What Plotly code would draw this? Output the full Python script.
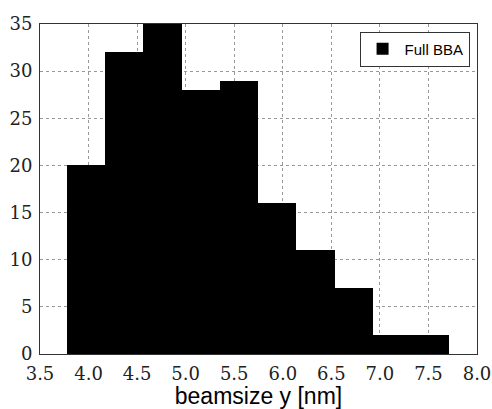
import plotly.graph_objects as go

# Histogram data
bin_start = 3.776
bin_width = 0.394
counts = [20, 32, 35, 28, 29, 16, 11, 7, 2, 2]
series_name = "Full BBA"
x_title = "beamsize y [nm]"
x_ticks = [3.5, 4.0, 4.5, 5.0, 5.5, 6.0, 6.5, 7.0, 7.5, 8.0]
y_ticks = [0, 5, 10, 15, 20, 25, 30, 35]

centers = [bin_start + bin_width * (i + 0.5) for i in range(len(counts))]
widths = [bin_width] * len(counts)

fig = go.Figure()
fig.add_trace(go.Bar(
    x=centers, y=counts, width=widths, name=series_name,
    marker=dict(color="black", line=dict(color="black", width=0)),
    showlegend=True,
))

serif = "DejaVu Serif"
axis_common = dict(
    showline=True, linecolor="#333", linewidth=1, mirror=True,
    showgrid=True, gridcolor="#999", griddash="dot", gridwidth=1,
    zeroline=False, ticks="", ticklabelstandoff=3, automargin=False,
    tickfont=dict(family=serif, size=18, color="#222"),
)

fig.update_xaxes(
    range=[3.5, 8.0], tickvals=x_ticks, ticktext=[f"{v:.1f}" for v in x_ticks],
    title=dict(text=x_title, font=dict(family="Liberation Sans", size=23, color="black"), standoff=10),
    **axis_common,
)
fig.update_yaxes(
    range=[0, 35], tickvals=y_ticks, ticktext=[str(v) for v in y_ticks],
    **axis_common,
)

fig.update_layout(
    width=492, height=409,
    margin=dict(l=40, r=15, t=24, b=55),
    plot_bgcolor="white", paper_bgcolor="white",
    bargap=0,
    showlegend=True,
    legend=dict(
        x=0.983, y=0.977, xanchor="right", yanchor="top",
        bgcolor="white", bordercolor="#333", borderwidth=1,
        font=dict(family="Liberation Sans", size=15, color="black"),
        itemwidth=34,
    ),
)

fig.write_html("out.html")
